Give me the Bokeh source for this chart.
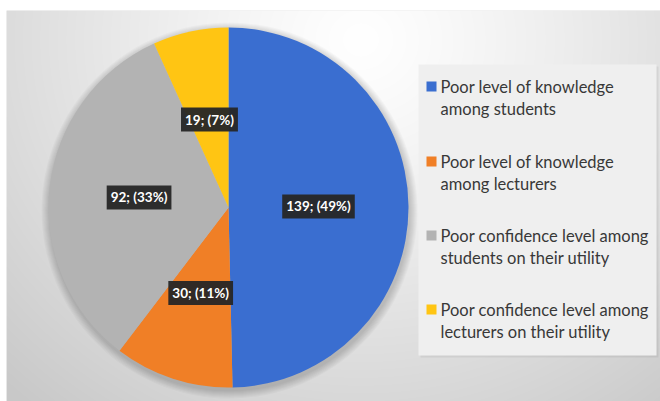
import numpy as np
from bokeh.plotting import figure
from bokeh.models import Range1d, ColumnDataSource
from bokeh.core.properties import value
from bokeh.embed import file_html
from bokeh.resources import INLINE

# ---- data ----
categories = [
    "Poor level of knowledge among students",
    "Poor level of knowledge among lecturers",
    "Poor confidence level among students on their utility",
    "Poor confidence level among lecturers on their utility",
]
legend_lines = [
    ["Poor level of knowledge", "among students"],
    ["Poor level of knowledge", "among lecturers"],
    ["Poor confidence level among", "students on their utility"],
    ["Poor confidence level among", "lecturers on their utility"],
]
counts = [139, 30, 92, 19]
percents = [49, 11, 33, 7]
colors = ["#3A6ED0", "#F07F26", "#B3B3B3", "#FFC513"]

W, H = 660, 401
FONT = "Lato"

p = figure(width=W, height=H, output_backend="svg", toolbar_location=None,
           x_range=Range1d(6, W), y_range=Range1d(0, H - 10),
           min_border_left=6, min_border_right=0, min_border_top=10, min_border_bottom=0)
p.axis.visible = False
p.grid.visible = False
p.outline_line_color = None
p.border_fill_color = "white"
p.background_fill_color = "#e6e6e6"

def Y(py):
    return H - py

# background radial gradient
gw, gh = W - 6, H - 10
xx, yy = np.meshgrid(np.arange(gw) + 6, np.arange(gh))
pyy = H - yy
d = np.sqrt(((xx - 360) / 430.0) ** 2 + ((pyy - 40) / 400.0) ** 2)
v = 255 - 44 * np.clip(d, 0, 1.2) ** 1.2
v = np.clip(v, 0, 255).astype(np.uint8)
img = np.zeros((gh, gw), dtype=np.uint32)
view = img.view(dtype=np.uint8).reshape((gh, gw, 4))
view[:, :, 0] = v
view[:, :, 1] = v
view[:, :, 2] = v
view[:, :, 3] = 255
p.image_rgba(image=[img], x=6, y=0, dw=gw, dh=gh)

# pie geometry
cx, cy, R = 228, Y(207), 180
total = sum(counts)
fr = np.array(counts) / total
cum = np.concatenate([[0], np.cumsum(fr)])
start = np.pi / 2 - cum[:-1] * 2 * np.pi
end = np.pi / 2 - cum[1:] * 2 * np.pi
mid = (start + end) / 2

# soft shadow
for i in range(1, 9):
    p.circle(x=cx + 1, y=cy - 3, radius=R + i, fill_color="black", fill_alpha=0.025, line_color=None)

src = ColumnDataSource(dict(start=start, end=end, color=colors, cat=categories))
p.wedge(x=cx, y=cy, radius=R, start_angle="start", end_angle="end", direction="clock",
        fill_color="color", line_color=None, source=src)

# data labels
lr = 0.5 * R
labels = [f"{c}; ({q}%)" for c, q in zip(counts, percents)]
lsrc = ColumnDataSource(dict(x=cx + lr * np.cos(mid), y=cy + lr * np.sin(mid), t=labels))
p.text(x="x", y="y", text="t", source=lsrc, text_align="center", text_baseline="middle",
       text_color="white", text_font=value(FONT), text_font_style="bold", text_font_size="13.5px",
       background_fill_color="#262626", background_fill_alpha=0.95, padding=4)

# legend box
lx0, lx1, ly0, ly1 = 418, 656, 64, 355
p.quad(left=lx0 + 2, right=lx1 + 2, top=Y(ly0) - 2, bottom=Y(ly1) - 2, fill_color="black",
       fill_alpha=0.06, line_color=None)
p.quad(left=lx0, right=lx1, top=Y(ly0), bottom=Y(ly1), fill_color="#efefef", line_color=None)

ent_y = [86, 161, 235, 309]
p.scatter(x=[431] * 4, y=[Y(e) for e in ent_y], marker="square", size=10, fill_color=colors,
          line_color=None)
tx, ty, tt = [], [], []
for e, lines in zip(ent_y, legend_lines):
    for k, ln in enumerate(lines):
        tx.append(440)
        ty.append(Y(e + 22 * k))
        tt.append(ln)
p.text(x=tx, y=ty, text=tt, text_align="left", text_baseline="middle", text_color="#383838",
       text_font=value(FONT), text_font_size="16.5px")

open("out.html", "w").write(file_html(p, INLINE))
